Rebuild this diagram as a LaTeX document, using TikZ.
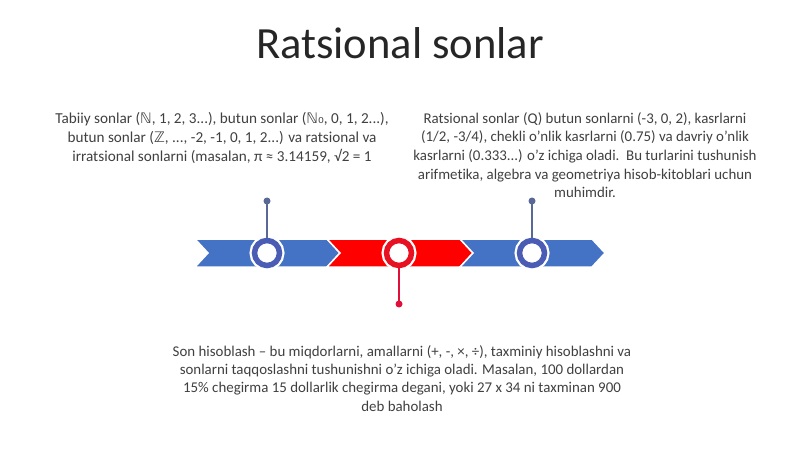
\documentclass[tikz,border=0pt]{standalone}
\usepackage{fontspec}
\setmainfont{Carlito}[Ligatures={TeX,NoCommon}]
\newfontfamily\symf{DejaVu Sans}
\definecolor{chevblue}{HTML}{4472C4}
\definecolor{ringblue}{HTML}{4B5CB5}
\definecolor{stemblue}{HTML}{5A6898}
\definecolor{chevred}{HTML}{FF0000}
\definecolor{ringred}{HTML}{E81123}
\definecolor{stemred}{HTML}{E0103A}
\definecolor{textgray}{HTML}{404040}
\definecolor{titlegray}{HTML}{262626}
\begin{document}
\begin{tikzpicture}[x=1pt,y=-1pt,
  txt/.style={text=textgray, font=\fontsize{14.9}{19}\selectfont, align=center, inner sep=0pt},
  chev/.style={draw=white, line width=1.5pt, line join=miter},
  ring/.style={circle, draw=#1, line width=5.5pt, fill=white, minimum size=25pt, inner sep=0pt,
    preaction={draw=white, line width=10pt}},
  stem/.style={draw=#1, line width=1.5pt},
  dot/.style={circle, fill=#1, inner sep=0pt, minimum size=7pt}]
\useasboundingbox (0,0) rectangle (800,449);
\fill[white] (0,0) rectangle (800,449);

% title
\node[anchor=base, text=titlegray, font=\fontsize{44.6}{54}\selectfont, inner sep=0pt] (title) at (400,59) {Ratsional sonlar};

% chevrons
\path[chev, fill=chevblue] (195,239) -- (327,239) -- (340,253) -- (327,267) -- (195,267) -- (208,253) -- cycle;
\path[chev, fill=chevred]  (327,239) -- (460,239) -- (473,253) -- (460,267) -- (327,267) -- (340,253) -- cycle;
\path[chev, fill=chevblue] (460,239) -- (592,239) -- (605,253) -- (592,267) -- (460,267) -- (473,253) -- cycle;

% rings
\node[ring=ringblue] (c1) at (267,253) {};
\node[ring=ringred]  (c2) at (399,253) {};
\node[ring=ringblue] (c3) at (532,253) {};

% dots and stems
\node[dot=stemblue] (d1) at (267,201) {};
\node[dot=stemred]  (d2) at (399,304) {};
\node[dot=stemblue] (d3) at (532,201) {};
\draw[stem=stemblue] (c1.north) -- (d1.center);
\draw[stem=stemred]  (c2.south) -- (d2.center);
\draw[stem=stemblue] (c3.north) -- (d3.center);

% texts
\node[txt, anchor=north, font=\fontsize{15.2}{19.3}\selectfont] (t1) at (222,112) {Tabiiy sonlar ({\symf\fontsize{14.5}{19}\selectfont ℕ}, 1, 2, 3...), butun sonlar ({\symf\fontsize{14.5}{19}\selectfont ℕ₀}, 0, 1, 2...),\\
butun sonlar ({\symf\fontsize{14.5}{19}\selectfont ℤ}, ..., -2, -1, 0, 1, 2...) va ratsional va\\
irratsional sonlarni (masalan, π ≈ 3.14159, √2 = 1};

\node[txt, anchor=north, font=\fontsize{14.9}{18.7}\selectfont] (t2) at (585,112) {Ratsional sonlar (Q) butun sonlarni (-3, 0, 2), kasrlarni\\
(1/2, -3/4), chekli o'nlik kasrlarni (0.75) va davriy o'nlik\\
kasrlarni (0.333...) o'z ichiga oladi.\ \ Bu turlarini tushunish\\
arifmetika, algebra va geometriya hisob-kitoblari uchun\\
muhimdir.};

\node[txt, anchor=north, font=\fontsize{14.9}{18.4}\selectfont] (t3) at (402,345) {Son hisoblash – bu miqdorlarni, amallarni (+, -, ×, ÷), taxminiy hisoblashni va\\
sonlarni taqqoslashni tushunishni o'z ichiga oladi. Masalan, 100 dollardan\\
15\% chegirma 15 dollarlik chegirma degani, yoki 27 x 34 ni taxminan 900\\
deb baholash};
\end{tikzpicture}
\end{document}
